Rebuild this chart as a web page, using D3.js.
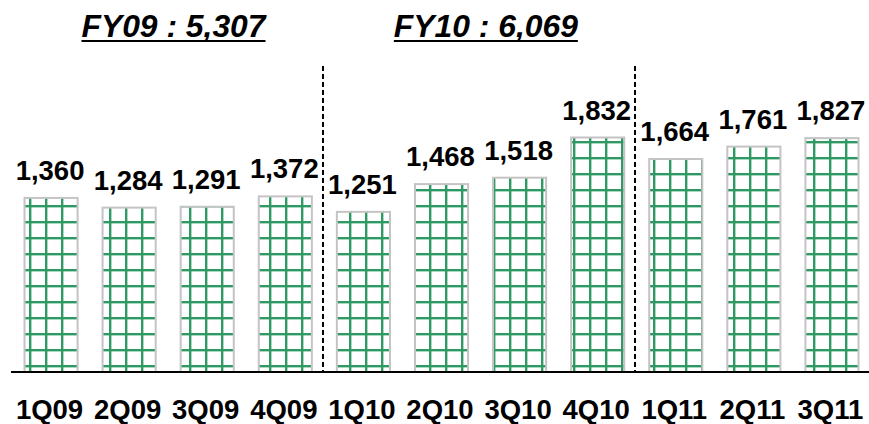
<!DOCTYPE html>
<html>
<head>
<meta charset="utf-8">
<script src="https://cdn.jsdelivr.net/npm/d3@7"></script>
<style>
  body { margin: 0; background: #fff; }
  text { font-family: "Liberation Sans", Arial, sans-serif; font-weight: bold; fill: #000; }
</style>
</head>
<body>
<div id="chart"></div>
<script>
let quarters = ["1Q09", "2Q09", "3Q09", "4Q09", "1Q10", "2Q10", "3Q10", "4Q10", "1Q11", "2Q11", "3Q11"];
let values = [1360, 1284, 1291, 1372, 1251, 1468, 1518, 1832, 1664, 1761, 1827];
let fyTitles = ["FY09 : 5,307", "FY10 : 6,069"];
let fyStarts = ["1Q09", "1Q10"]; // first quarter of each fiscal year
let dividers = ["1Q10", "1Q11"]; // dashed line drawn before these

let width = 869, height = 424;
let baseY = 372;

var svg = d3.select("#chart")
	.append("svg")
	.attr("width", width)
	.attr("height", height);

// green grid fill
var pat = svg.append("defs").append("pattern")
	.attr("id", "grid")
	.attr("patternUnits", "userSpaceOnUse")
	.attr("width", 16)
	.attr("height", 16);
pat.append("rect").attr("width", 16).attr("height", 16).attr("fill", "#fff");
pat.append("rect").attr("x", 13).attr("y", 0).attr("width", 2.4).attr("height", 16).attr("fill", "#2f9964");
pat.append("rect").attr("x", 0).attr("y", 13).attr("width", 16).attr("height", 2.4).attr("fill", "#2f9964");

var x = d3.scaleBand()
	.domain(quarters)
	.range([12, 871])
	.paddingInner(0.32)
	.paddingOuter(0.16);

var y = d3.scaleLinear()
	.domain([0, 1832])
	.range([baseY, 137.5]);

var step = x.step();

// bars
svg.selectAll(".bar")
	.data(values)
	.enter().append("rect")
	.attr("class", "bar")
	.attr("x", function(d, i) { return x(quarters[i]); })
	.attr("y", function(d) { return y(d); })
	.attr("width", x.bandwidth())
	.attr("height", function(d) { return baseY - y(d); })
	.style("fill", "url(#grid)")
	.style("stroke", "#c4c4c4")
	.style("stroke-width", 2);

// value labels
svg.selectAll(".val")
	.data(values)
	.enter().append("text")
	.attr("class", "val")
	.attr("x", function(d, i) { return x(quarters[i]) + x.bandwidth() / 2 - 1; })
	.attr("y", function(d) { return y(d) - 18; })
	.attr("text-anchor", "middle")
	.style("font-size", "27.5px")
	.text(function(d) { return d3.format(",")(d); });

// dashed year dividers
svg.selectAll(".divider")
	.data(dividers)
	.enter().append("line")
	.attr("class", "divider")
	.attr("x1", function(d) { return Math.round(x(d) - step * 0.16 - 1.5); })
	.attr("x2", function(d) { return Math.round(x(d) - step * 0.16 - 1.5); })
	.attr("y1", 66)
	.attr("y2", baseY)
	.style("stroke", "#000")
	.style("stroke-width", 2)
	.style("stroke-dasharray", "5,3");

// axis baseline
svg.append("line")
	.attr("x1", 11)
	.attr("x2", width)
	.attr("y1", baseY)
	.attr("y2", baseY)
	.style("stroke", "#000")
	.style("stroke-width", 2);

// quarter labels
svg.selectAll(".qlabel")
	.data(quarters)
	.enter().append("text")
	.attr("class", "qlabel")
	.attr("x", function(d) { return x(d) + x.bandwidth() / 2 - 1.5; })
	.attr("y", 418.5)
	.attr("text-anchor", "middle")
	.style("font-size", "27.5px")
	.text(function(d) { return d; });

// fiscal year totals, underlined
fyTitles.forEach(function(t, i) {
	var tx = x(fyStarts[i]) + 57;
	svg.append("text")
		.attr("x", tx)
		.attr("y", 37)
		.attr("textLength", 184)
		.attr("lengthAdjust", "spacingAndGlyphs")
		.style("font-size", "30.5px")
		.style("font-style", "italic")
		.text(t);
	svg.append("line")
		.attr("x1", tx)
		.attr("x2", tx + 184)
		.attr("y1", 41)
		.attr("y2", 41)
		.style("stroke", "#000")
		.style("stroke-width", 2);
});
</script>
</body>
</html>
